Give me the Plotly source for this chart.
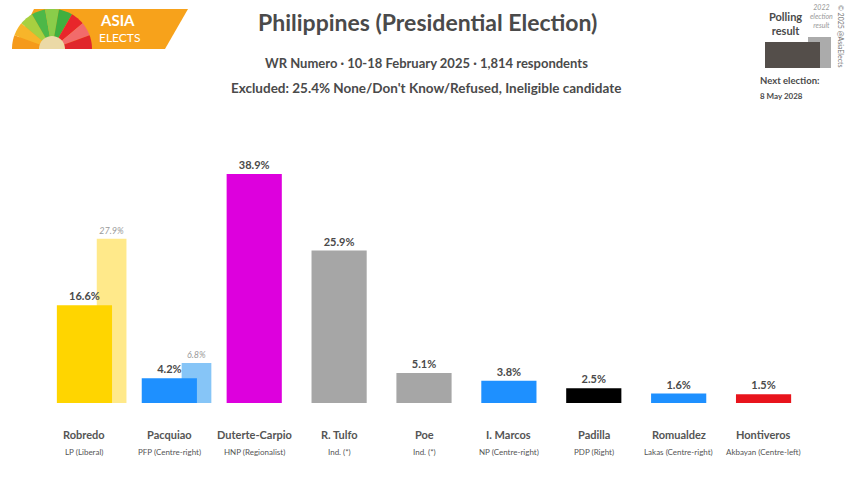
import math
import plotly.graph_objects as go

# ---------------- data ----------------
candidates = ["Robredo", "Pacquiao", "Duterte-Carpio", "R. Tulfo", "Poe",
              "I. Marcos", "Padilla", "Romualdez", "Hontiveros"]
parties = ["LP (Liberal)", "PFP (Centre-right)", "HNP (Regionalist)", "Ind. (*)",
           "Ind. (*)", "NP (Centre-right)", "PDP (Right)", "Lakas (Centre-right)",
           "Akbayan (Centre-left)"]
poll_values = [16.6, 4.2, 38.9, 25.9, 5.1, 3.8, 2.5, 1.6, 1.5]
prev_values = [27.9, 6.8, None, None, None, None, None, None, None]
colors = ["#FFD500", "#1E90FF", "#DD00DD", "#A6A6A6", "#A6A6A6",
          "#1E90FF", "#000000", "#1E90FF", "#E8141C"]
prev_colors = ["#FFE98A", "#86C5F7", "#FFFFFF", "#FFFFFF", "#FFFFFF",
               "#FFFFFF", "#FFFFFF", "#FFFFFF", "#FFFFFF"]

W, H = 850, 477
ML, MR, MT, MB = 42, 44, 110, 74
PW = W - ML - MR
PH = H - MT - MB
FONT = "Lato"
TXT = "#4a4a4a"

def px(x):
    return (x - ML) / PW

def py(y):
    return (H - MB - y) / PH

xs = list(range(len(candidates)))

fig = go.Figure()
# previous (2022) results, behind
fig.add_trace(go.Bar(
    x=xs, y=prev_values, width=0.35, offset=0.145,
    marker=dict(color=prev_colors, line=dict(width=0)),
    text=[None if v is None else f"<i>{v:.1f}%</i>" for v in prev_values],
    textposition="outside", textfont=dict(family=FONT, size=9, color="#9a9a9a"),
    cliponaxis=False, hoverinfo="skip", showlegend=False))
# poll results
fig.add_trace(go.Bar(
    x=xs, y=poll_values, width=0.65, offset=-0.325,
    marker=dict(color=colors, line=dict(width=0)),
    text=[f"<b>{v:.1f}%</b>" for v in poll_values],
    textposition="outside", textfont=dict(family=FONT, size=11, color=TXT),
    cliponaxis=False, hoverinfo="skip", showlegend=False))

annotations = []
for i, (c, p) in enumerate(zip(candidates, parties)):
    annotations.append(dict(x=i, y=py(434), xref="x", yref="paper", text=f"<b>{c}</b>",
                            showarrow=False, font=dict(family=FONT, size=11, color="#555"),
                            xanchor="center", yanchor="middle"))
    annotations.append(dict(x=i, y=py(452), xref="x", yref="paper", text=p,
                            showarrow=False, font=dict(family=FONT, size=8, color="#555"),
                            xanchor="center", yanchor="middle"))

# header
annotations += [
    dict(x=px(427), y=py(22), xref="paper", yref="paper",
         text="<b>Philippines (Presidential Election)</b>", showarrow=False,
         font=dict(family=FONT, size=23, color=TXT), xanchor="center", yanchor="middle"),
    dict(x=px(426), y=py(63), xref="paper", yref="paper",
         text="<b>WR Numero · 10-18 February 2025 · 1,814 respondents</b>", showarrow=False,
         font=dict(family=FONT, size=13, color=TXT), xanchor="center", yanchor="middle"),
    dict(x=px(426), y=py(88), xref="paper", yref="paper",
         text="<b>Excluded: 25.4% None/Don't Know/Refused, Ineligible candidate</b>", showarrow=False,
         font=dict(family=FONT, size=13.5, color=TXT), xanchor="center", yanchor="middle"),
    # top-right legend
    dict(x=px(785), y=py(23), xref="paper", yref="paper",
         text="<b>Polling<br>result</b>", showarrow=False,
         font=dict(family=FONT, size=11, color=TXT), xanchor="center", yanchor="middle"),
    dict(x=px(821), y=py(16), xref="paper", yref="paper",
         text="<i>2022<br>election<br>result</i>", showarrow=False,
         font=dict(family=FONT, size=7, color="#999"), xanchor="center", yanchor="middle"),
    dict(x=px(758), y=py(80), xref="paper", yref="paper",
         text="<b>Next election:</b>", showarrow=False,
         font=dict(family=FONT, size=9.5, color=TXT), xanchor="left", yanchor="middle"),
    dict(x=px(758), y=py(96), xref="paper", yref="paper",
         text="<b>8 May 2028</b>", showarrow=False,
         font=dict(family=FONT, size=8, color=TXT), xanchor="left", yanchor="middle"),
    dict(x=px(841), y=py(36), xref="paper", yref="paper",
         text="© 2025 @AsiaElects", showarrow=False, textangle=90,
         font=dict(family=FONT, size=7, color="#777"), xanchor="center", yanchor="middle"),
    # logo text
    dict(x=px(98), y=py(20), xref="paper", yref="paper",
         text="<b>ASIA</b>", showarrow=False,
         font=dict(family=FONT, size=15, color="white"), xanchor="left", yanchor="middle"),
    dict(x=px(97), y=py(38), xref="paper", yref="paper",
         text="ELECTS", showarrow=False,
         font=dict(family=FONT, size=12, color="white"), xanchor="left", yanchor="middle"),
]

def path(points):
    s = "M " + " L ".join(f"{px(a):.5f},{py(b):.5f}" for a, b in points) + " Z"
    return s

shapes = []
# logo parallelogram
shapes.append(dict(type="path", xref="paper", yref="paper",
                   path=path([(34, 9), (188, 9), (165, 49), (14, 49)]),
                   fillcolor="#F7A21B", line=dict(width=0)))
# fan
cx, cy, R = 52, 49, 40
fan_cols = ["#F59A1B", "#F7B52A", "#A8D040", "#4DB848", "#8ACD4A", "#3FAF3F",
            "#E8262B", "#F26B6B", "#E0262B"]
n = len(fan_cols)
for k, col in enumerate(fan_cols):
    a0 = math.pi - k * math.pi / n
    a1 = math.pi - (k + 1) * math.pi / n
    pts = [(cx, cy)]
    for t in range(7):
        a = a0 + (a1 - a0) * t / 6
        pts.append((cx + R * math.cos(a), cy - R * math.sin(a)))
    shapes.append(dict(type="path", xref="paper", yref="paper", path=path(pts),
                       fillcolor=col, line=dict(width=0)))
pts = [(cx + 13 * math.cos(math.pi * t / 20), cy - 13 * math.sin(math.pi * t / 20)) for t in range(21)]
shapes.append(dict(type="path", xref="paper", yref="paper", path=path(pts),
                   fillcolor="#EBD9A6", line=dict(width=0)))
# legend boxes
shapes.append(dict(type="rect", xref="paper", yref="paper",
                   x0=px(808), x1=px(831), y0=py(68), y1=py(37),
                   fillcolor="#ABABAB", line=dict(width=0)))
shapes.append(dict(type="rect", xref="paper", yref="paper",
                   x0=px(765), x1=px(820), y0=py(68), y1=py(42),
                   fillcolor="#544E4A", line=dict(width=0)))

fig.update_layout(
    width=W, height=H,
    margin=dict(l=ML, r=MR, t=MT, b=MB, pad=0),
    paper_bgcolor="white", plot_bgcolor="white",
    barmode="overlay",
    xaxis=dict(range=[-0.5, len(candidates) - 0.5], visible=False, fixedrange=True),
    yaxis=dict(range=[0, PH / 5.887], visible=False, fixedrange=True),
    annotations=annotations, shapes=shapes,
    font=dict(family=FONT),
)

fig.write_html("out.html", config={"displayModeBar": False},
               post_script="document.body.style.margin='0px';document.body.style.overflow='hidden';")
